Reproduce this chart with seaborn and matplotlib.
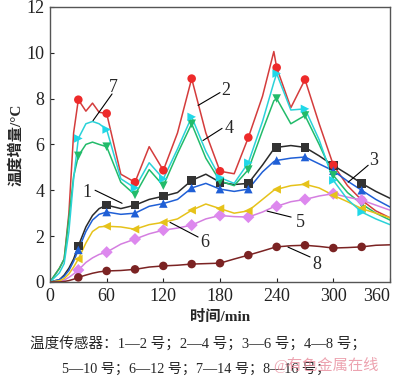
import numpy as np
import pandas as pd
import matplotlib
matplotlib.use("Agg")
import matplotlib.pyplot as plt
import seaborn as sns

# =====================================================
# DATA
# =====================================================

t = [0, 10, 15, 20, 25, 30, 38, 45, 52, 60, 75, 90, 105, 120, 135, 150,
     165, 180, 195, 210, 225, 237, 240, 255, 270, 285, 300, 315, 330, 345, 360]

s1 = [0, 0.1, 0.3, 0.6, 1.0, 1.57, 2.4, 2.9, 3.2, 3.35, 3.2, 3.35, 3.6, 3.74, 3.9, 4.43,
      4.7, 4.35, 4.25, 4.3, 5.1, 5.8, 5.87, 5.95, 5.87, 5.5, 5.08, 4.7, 4.3, 3.95, 3.65]
s2 = [0, 0.6, 1.0, 3.0, 6.5, 7.95, 7.45, 7.8, 7.4, 7.35, 4.7, 4.35, 5.9, 4.87, 6.5, 8.87,
      6.5, 4.83, 4.72, 6.3, 8.1, 10.05, 9.35, 7.6, 8.83, 6.9, 5.1, 4.2, 3.57, 3.1, 2.8]
s3 = [0, 0.1, 0.25, 0.5, 0.9, 1.4, 2.2, 2.7, 2.95, 3.05, 2.95, 3.0, 3.3, 3.42, 3.6, 4.1,
      4.3, 4.05, 3.95, 4.05, 4.8, 5.25, 5.3, 5.4, 5.45, 5.15, 4.85, 4.4, 4.0, 3.6, 3.27]
s4 = [0, 0.6, 1.0, 2.8, 4.6, 5.5, 6.0, 6.1, 6.0, 5.9, 4.35, 3.8, 4.9, 4.2, 5.6, 6.9,
      5.4, 4.4, 4.2, 4.9, 6.6, 7.9, 8.0, 6.9, 7.26, 6.0, 4.65, 3.9, 3.4, 3.0, 2.7]
s5 = [0, 0.02, 0.08, 0.2, 0.35, 0.52, 0.85, 1.05, 1.2, 1.3, 1.65, 1.87, 2.1, 2.26, 2.35, 2.48,
      2.75, 2.9, 2.85, 2.83, 3.05, 3.28, 3.3, 3.5, 3.6, 3.75, 3.85, 3.7, 3.57, 3.35, 3.13]
s6 = [0, 0.05, 0.15, 0.35, 0.65, 1.0, 1.7, 2.2, 2.4, 2.43, 2.4, 2.3, 2.5, 2.6, 2.75, 3.13,
      3.4, 3.2, 3.0, 3.1, 3.6, 4.0, 4.04, 4.2, 4.26, 4.1, 3.78, 3.5, 3.2, 3.0, 2.8]
s7 = [0, 0.4, 0.8, 2.2, 4.5, 6.26, 6.9, 7.0, 6.9, 6.65, 4.5, 4.1, 5.2, 4.5, 5.8, 7.2,
      5.7, 4.55, 4.3, 5.2, 7.0, 8.7, 9.09, 7.5, 7.55, 6.2, 4.43, 3.6, 3.05, 2.75, 2.5]
s8 = [0, 0.0, 0.02, 0.06, 0.12, 0.2, 0.3, 0.38, 0.44, 0.48, 0.5, 0.55, 0.65, 0.7, 0.73, 0.78,
      0.8, 0.82, 1.0, 1.17, 1.35, 1.5, 1.53, 1.58, 1.6, 1.55, 1.48, 1.5, 1.53, 1.6, 1.62]

sensors = ["1", "2", "3", "4", "5", "6", "7", "8"]
series = [s1, s2, s3, s4, s5, s6, s7, s8]

line_colors = ["#2a2a2a", "#d43c3c", "#1f5fd6", "#22bb6a",
               "#d47ee0", "#e6c21a", "#2ad2d8", "#7b2323"]
marker_colors = ["#333333", "#ee2a2a", "#1f5fd6", "#22bb6a",
                 "#dd88ee", "#e6c21a", "#20d8e8", "#7b2323"]
marker_shapes = ["s", "o", "^", "v", "D", "<", ">", "o"]

caption1 = "温度传感器：1—2 号；2—4 号；3—6 号；4—8 号；"
caption2 = "5—10 号；6—12 号；7—14 号；8—16 号；"

# =====================================================
# LONG DATAFRAME
# =====================================================

rows = []
for name, vals in zip(sensors, series):
    for tt, v in zip(t, vals):
        rows.append([tt, v, name])

df = pd.DataFrame(rows, columns=["t", "value", "sensor"])

# markers every 30 min
marks = df[(df["t"] % 30 == 0) & (df["t"] > 0) & (df["t"] < 360)]

# =====================================================
# PLOT
# =====================================================

sns.set_style("ticks")
plt.rcParams["font.family"] = ["Liberation Serif", "Noto Sans CJK SC"]

fig = plt.figure(figsize=(4, 3.8), dpi=100)
ax = fig.add_axes([0.125, 0.258, 0.85, 0.724])

sns.lineplot(
    data=df,
    x="t",
    y="value",
    hue="sensor",
    palette=dict(zip(sensors, line_colors)),
    linewidth=1.1,
    legend=False,
    ax=ax
)

sns.scatterplot(
    data=marks,
    x="t",
    y="value",
    hue="sensor",
    style="sensor",
    palette=dict(zip(sensors, marker_colors)),
    markers=dict(zip(sensors, marker_shapes)),
    s=38,
    linewidth=0,
    legend=False,
    zorder=3,
    ax=ax
)

ax.set_xlim(0, 360)
ax.set_ylim(0, 12)
ax.set_xticks(range(0, 361, 60))
ax.set_yticks(range(0, 13, 2))
ax.tick_params(direction="in", length=3, labelsize=13, colors="#222222", pad=4)

# last x label squeezed inside the figure, as in the reference
ax.get_xticklabels()[-1].set_horizontalalignment("right")

for sp in ax.spines.values():
    sp.set_visible(True)
    sp.set_color("#555555")
    sp.set_linewidth(1.0)

ax.set_xlabel("时间/min", fontsize=11, fontweight="bold", labelpad=4)
ax.set_ylabel("温度增量/°C", fontsize=11, fontweight="bold", labelpad=2)

# curve labels with leader lines
labels = [
    ("7", (66.7, 8.5), (65.7, 8.2), (45.6, 7.04)),
    ("2", (186.0, 8.35), (180.0, 8.26), (156.8, 7.7)),
    ("4", (190.0, 6.7), (182.2, 6.7), (162.0, 6.17)),
    ("1", (39.0, 3.9), (47.7, 4.0), (76.3, 3.43)),
    ("3", (343.0, 5.3), (336.9, 5.09), (315.7, 4.35)),
    ("5", (265.0, 2.6), (255.3, 2.83), (229.9, 3.09)),
    ("6", (164.0, 1.74), (156.8, 1.96), (127.1, 2.6)),
    ("8", (283.0, 0.74), (275.4, 1.09), (252.0, 1.52)),
]
for txt, pos, p0, p1 in labels:
    ax.plot([p0[0], p1[0]], [p0[1], p1[1]], color="black", linewidth=0.8)
    ax.text(pos[0], pos[1], txt, fontsize=13, ha="center", va="center")

fig.text(0.495, 0.097, caption1, fontsize=10.5, ha="center", va="center")
fig.text(0.49, 0.027, caption2, fontsize=10.2, ha="center", va="center")
fig.text(0.815, 0.04, "@有色金属在线", fontsize=11, ha="center", va="center",
         color="#e88c9c", alpha=0.8)

fig.savefig("out.png", dpi=100)
